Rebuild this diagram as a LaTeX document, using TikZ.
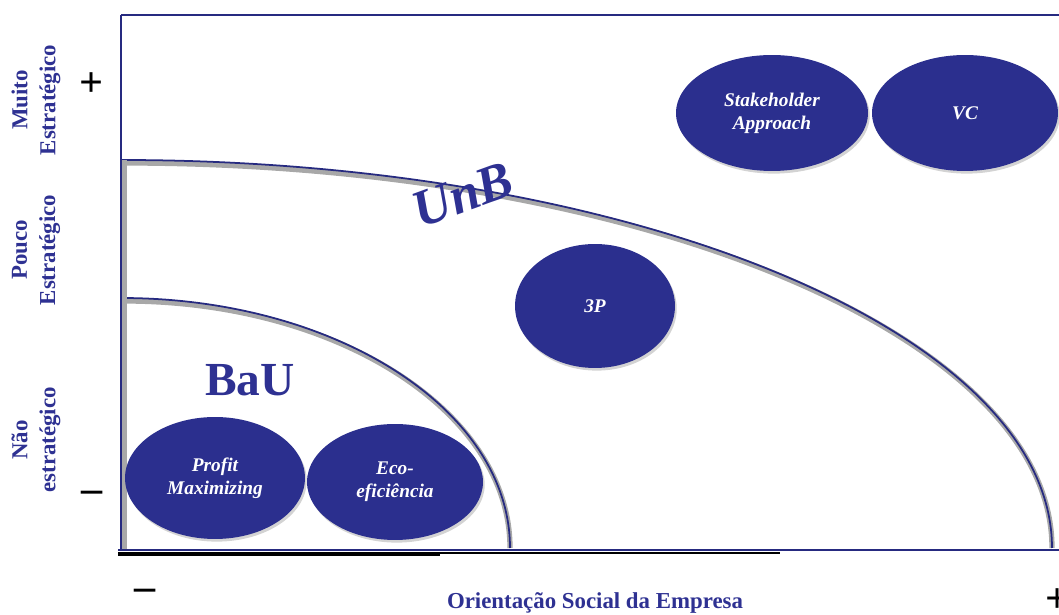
\documentclass[tikz,border=0pt]{standalone}
\usepackage{fontspec}
\setmainfont{Liberation Serif}
\usetikzlibrary{shapes.geometric}
\usetikzlibrary{shadows}
\definecolor{NavyText}{HTML}{2E3192}
\definecolor{BallBlue}{HTML}{2B2F8E}
\definecolor{EdgeBlue}{HTML}{262A80}
\definecolor{ShadowGray}{HTML}{A8A8A8}

\begin{document}
\begin{tikzpicture}[x=0.02cm, y=0.02cm,
  ball/.style={ellipse, fill=BallBlue, text=white, align=center,
    font=\fontsize{11}{13}\selectfont\bfseries\itshape, inner sep=0pt,
    drop shadow={shadow xshift=1pt, shadow yshift=-1.5pt, opacity=0.35}},
  axislabel/.style={text=NavyText, align=center,
    font=\fontsize{13}{16}\selectfont\bfseries},
  sign/.style={font=\fontsize{24}{24}\selectfont\bfseries, text=black}]
  \useasboundingbox (0,0) rectangle (1059,615);

  % frame
  \coordinate (TopLeft)  at (121,600);
  \coordinate (TopRight) at (1059,600);
  \coordinate (Origin)   at (121,65);
  \draw [EdgeBlue, line width=0.6pt] (TopLeft) -- (TopRight);
  \draw [EdgeBlue, line width=0.6pt] (TopLeft) -- (121,455);

  % frontiers
  \draw [ShadowGray, line width=3pt] (124,452) arc[start angle=90, end angle=0, x radius=928, y radius=385];
  \draw [EdgeBlue, line width=1pt] (121,455) arc[start angle=90, end angle=0, x radius=931, y radius=388];
  \draw [ShadowGray, line width=3pt] (124,314) arc[start angle=90, end angle=0, x radius=386, y radius=247];
  \draw [EdgeBlue, line width=1pt] (121,317) arc[start angle=90, end angle=0, x radius=389, y radius=250];

  % axes
  \draw [ShadowGray, line width=3pt] (124,455) -- (124,65);
  \draw [EdgeBlue, line width=1pt] (121,455) -- (Origin);
  \draw [black, line width=2.5pt] (118,61) -- (440,61);
  \draw [black, line width=1.5pt] (440,62) -- (780,62);
  \draw [EdgeBlue, line width=1.5pt] (118,65) -- (1059,65);

  % strategies
  \node [ball, minimum width=3.6cm, minimum height=2.44cm] (profit) at (215,137) {Profit\\Maximizing};
  \node [ball, minimum width=3.52cm, minimum height=2.32cm] (eco)   at (395,133) {Eco-\\eficiência};
  \node [ball, minimum width=3.2cm, minimum height=2.48cm] (threeP) at (595,309) {3P};
  \node [ball, minimum width=3.84cm, minimum height=2.32cm] (stake) at (772,502) {Stakeholder\\Approach};
  \node [ball, minimum width=3.72cm, minimum height=2.32cm] (vc)    at (965,502) {VC};

  % zone names
  \node [text=NavyText, rotate=20, font=\fontsize{30}{30}\selectfont\bfseries\itshape] (unb) at (463,420) {UnB};
  \node [text=NavyText, font=\fontsize{27}{27}\selectfont\bfseries] (bau) at (250,235) {BaU};

  % axis labels
  \node [axislabel, rotate=90] (muito) at (36,515) {Muito\\Estratégico};
  \node [axislabel, rotate=90] (pouco) at (36,365) {Pouco\\Estratégico};
  \node [axislabel, rotate=90] (nao)   at (36,175) {Não\\estratégico};
  \node [axislabel] (social) at (595,12) {Orientação Social da Empresa};

  \node [sign] (yplus)  at (92,530) {+};
  \node [sign] (yminus) at (92,118) {--};
  \node [sign] (xminus) at (145,20) {--};
  \node [sign] (xplus)  at (1058,14) {+};
\end{tikzpicture}
\end{document}
